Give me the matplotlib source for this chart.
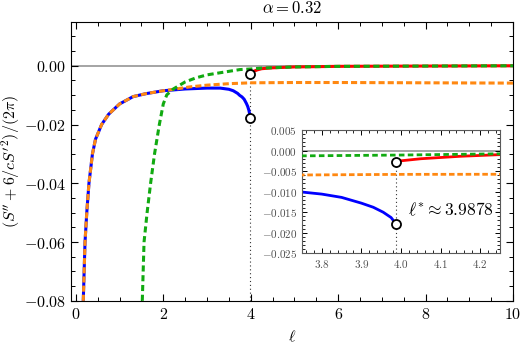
import matplotlib
matplotlib.use("Agg")
import matplotlib.pyplot as plt
from matplotlib.ticker import FuncFormatter, MultipleLocator

plt.rcParams["mathtext.fontset"] = "cm"
plt.rcParams["font.family"] = "serif"
plt.rcParams["font.serif"] = ["DejaVu Serif"]

ALPHA = 0.32
ELL_STAR = 3.9878

# values
ell_blue = [0.17, 0.19, 0.21, 0.25, 0.30, 0.38, 0.45, 0.59, 0.75, 1.0, 1.31, 1.6, 2.0, 2.5,
            3.0, 3.3, 3.5, 3.6, 3.7, 3.75, 3.8, 3.85, 3.9, 3.93, 3.955, 3.975, ELL_STAR]
blue = [-0.080, -0.070, -0.060, -0.050, -0.040, -0.030, -0.025, -0.020, -0.0165, -0.0130,
        -0.0105, -0.0095, -0.0085, -0.0079, -0.0076, -0.0076, -0.0080, -0.0085, -0.0094,
        -0.0101, -0.0106, -0.0114, -0.0128, -0.0138, -0.0150, -0.0163, -0.0179]

ell_orange = [0.17, 0.19, 0.21, 0.25, 0.30, 0.38, 0.45, 0.59, 0.75, 1.0, 1.31, 1.6, 2.0, 2.3,
              2.6, 3.0, 3.5, 4.0, 5.0, 6.0, 8.0, 10.0]
orange = [-0.080, -0.070, -0.060, -0.050, -0.040, -0.030, -0.025, -0.020, -0.0165, -0.0130,
          -0.0105, -0.0095, -0.0085, -0.0079, -0.0072, -0.0066, -0.0061, -0.0058, -0.0057,
          -0.0057, -0.0058, -0.0059]

ell_green = [1.52, 1.56, 1.63, 1.71, 1.80, 1.91, 2.0, 2.08, 2.23, 2.5, 2.75, 3.0, 3.5, 3.75,
             4.0, 4.25, 5.0, 6.0, 8.0, 10.0]
green = [-0.080, -0.060, -0.050, -0.040, -0.030, -0.020, -0.0130, -0.0099, -0.0079, -0.0055,
         -0.0041, -0.0031, -0.0019, -0.0013, -0.0011, -0.0008, -0.0004, -0.0002, -0.0001, 0.0]

ell_red = [ELL_STAR, 4.0, 4.05, 4.1, 4.15, 4.2, 4.25, 4.5, 5.0, 6.0, 8.0, 10.0]
red = [-0.0028, -0.0025, -0.0020, -0.0017, -0.0014, -0.0012, -0.0010, -0.0007, -0.0004,
       -0.0002, -0.0001, 0.0]


def mfmt(dec):
    def f(v, p):
        if abs(v) < 1e-9:
            v = 0.0
        return "$%.*f$" % (dec, v)
    return FuncFormatter(f)


def draw_curves(ax, lw, ybottom):
    ax.axhline(0, color="0.55", lw=1.1, zorder=1)
    ax.plot(ell_blue, blue, color="blue", lw=lw, zorder=2)
    ax.plot(ell_red, red, color="red", lw=lw, zorder=2)
    ax.plot(ell_orange, orange, color="#ff8811", lw=lw, ls=(0, (2, 1)),
            dash_capstyle="butt", zorder=3)
    ax.plot(ell_green, green, color="#11aa11", lw=lw, ls=(0, (2, 1.2)),
            dash_capstyle="butt", zorder=4)
    ax.vlines(ELL_STAR, ybottom, red[0], colors="0.2", lw=0.8, linestyles=(0, (1, 2.5)),
              zorder=1)
    ax.plot([ELL_STAR, ELL_STAR], [blue[-1], red[0]], ls="none", marker="o", ms=6.5,
            mfc="white", mec="black", mew=1.3, zorder=6)


fig = plt.figure(figsize=(5.23, 3.59), dpi=100)
ax = fig.add_axes([0.1358, 0.162, 0.981 - 0.1358, 0.9396 - 0.162])

draw_curves(ax, 2.2, -0.08)
ax.set_xlim(-0.11, 10)
ax.set_ylim(-0.08, 0.015)
ax.xaxis.set_major_locator(MultipleLocator(2))
ax.xaxis.set_minor_locator(MultipleLocator(0.5))
ax.yaxis.set_major_locator(MultipleLocator(0.02))
ax.yaxis.set_minor_locator(MultipleLocator(0.005))
ax.xaxis.set_major_formatter(mfmt(0))
ax.yaxis.set_major_formatter(mfmt(2))
ax.tick_params(which="both", direction="in", top=True, right=True, labelsize=11.5)
ax.tick_params(which="major", length=5, width=0.8)
ax.tick_params(which="minor", length=3, width=0.7)
ax.set_xlabel(r"$\ell$", fontsize=11.5)
ax.set_ylabel(r"$(S'' + 6/cS'^2)/(2\pi)$", fontsize=11.5)
ax.yaxis.set_label_coords(-0.112, 0.5)
ax.set_title(r"$\alpha = %.2f$" % ALPHA, fontsize=12, pad=6)

# inset zoom around ell*
axin = fig.add_axes([0.5774, 0.2944, 0.956 - 0.5774, 0.638 - 0.2944])
draw_curves(axin, 2.0, -0.025)
axin.set_xlim(3.75, 4.25)
axin.set_ylim(-0.025, 0.005)
axin.xaxis.set_major_locator(MultipleLocator(0.1))
axin.xaxis.set_minor_locator(MultipleLocator(0.02))
axin.yaxis.set_major_locator(MultipleLocator(0.005))
axin.yaxis.set_minor_locator(MultipleLocator(0.001))
axin.xaxis.set_major_formatter(mfmt(1))
axin.yaxis.set_major_formatter(mfmt(3))
axin.tick_params(which="both", direction="in", top=True, right=True, labelsize=8,
                 labelcolor="0.3")
axin.tick_params(which="major", length=3.5, width=0.7)
axin.tick_params(which="minor", length=2, width=0.6)
for s in axin.spines.values():
    s.set_color("0.35")
axin.text(4.018, -0.0146, r"$\ell^{*} \approx %.4f$" % ELL_STAR, fontsize=12.5, va="center")

fig.savefig("out.png", dpi=100)
